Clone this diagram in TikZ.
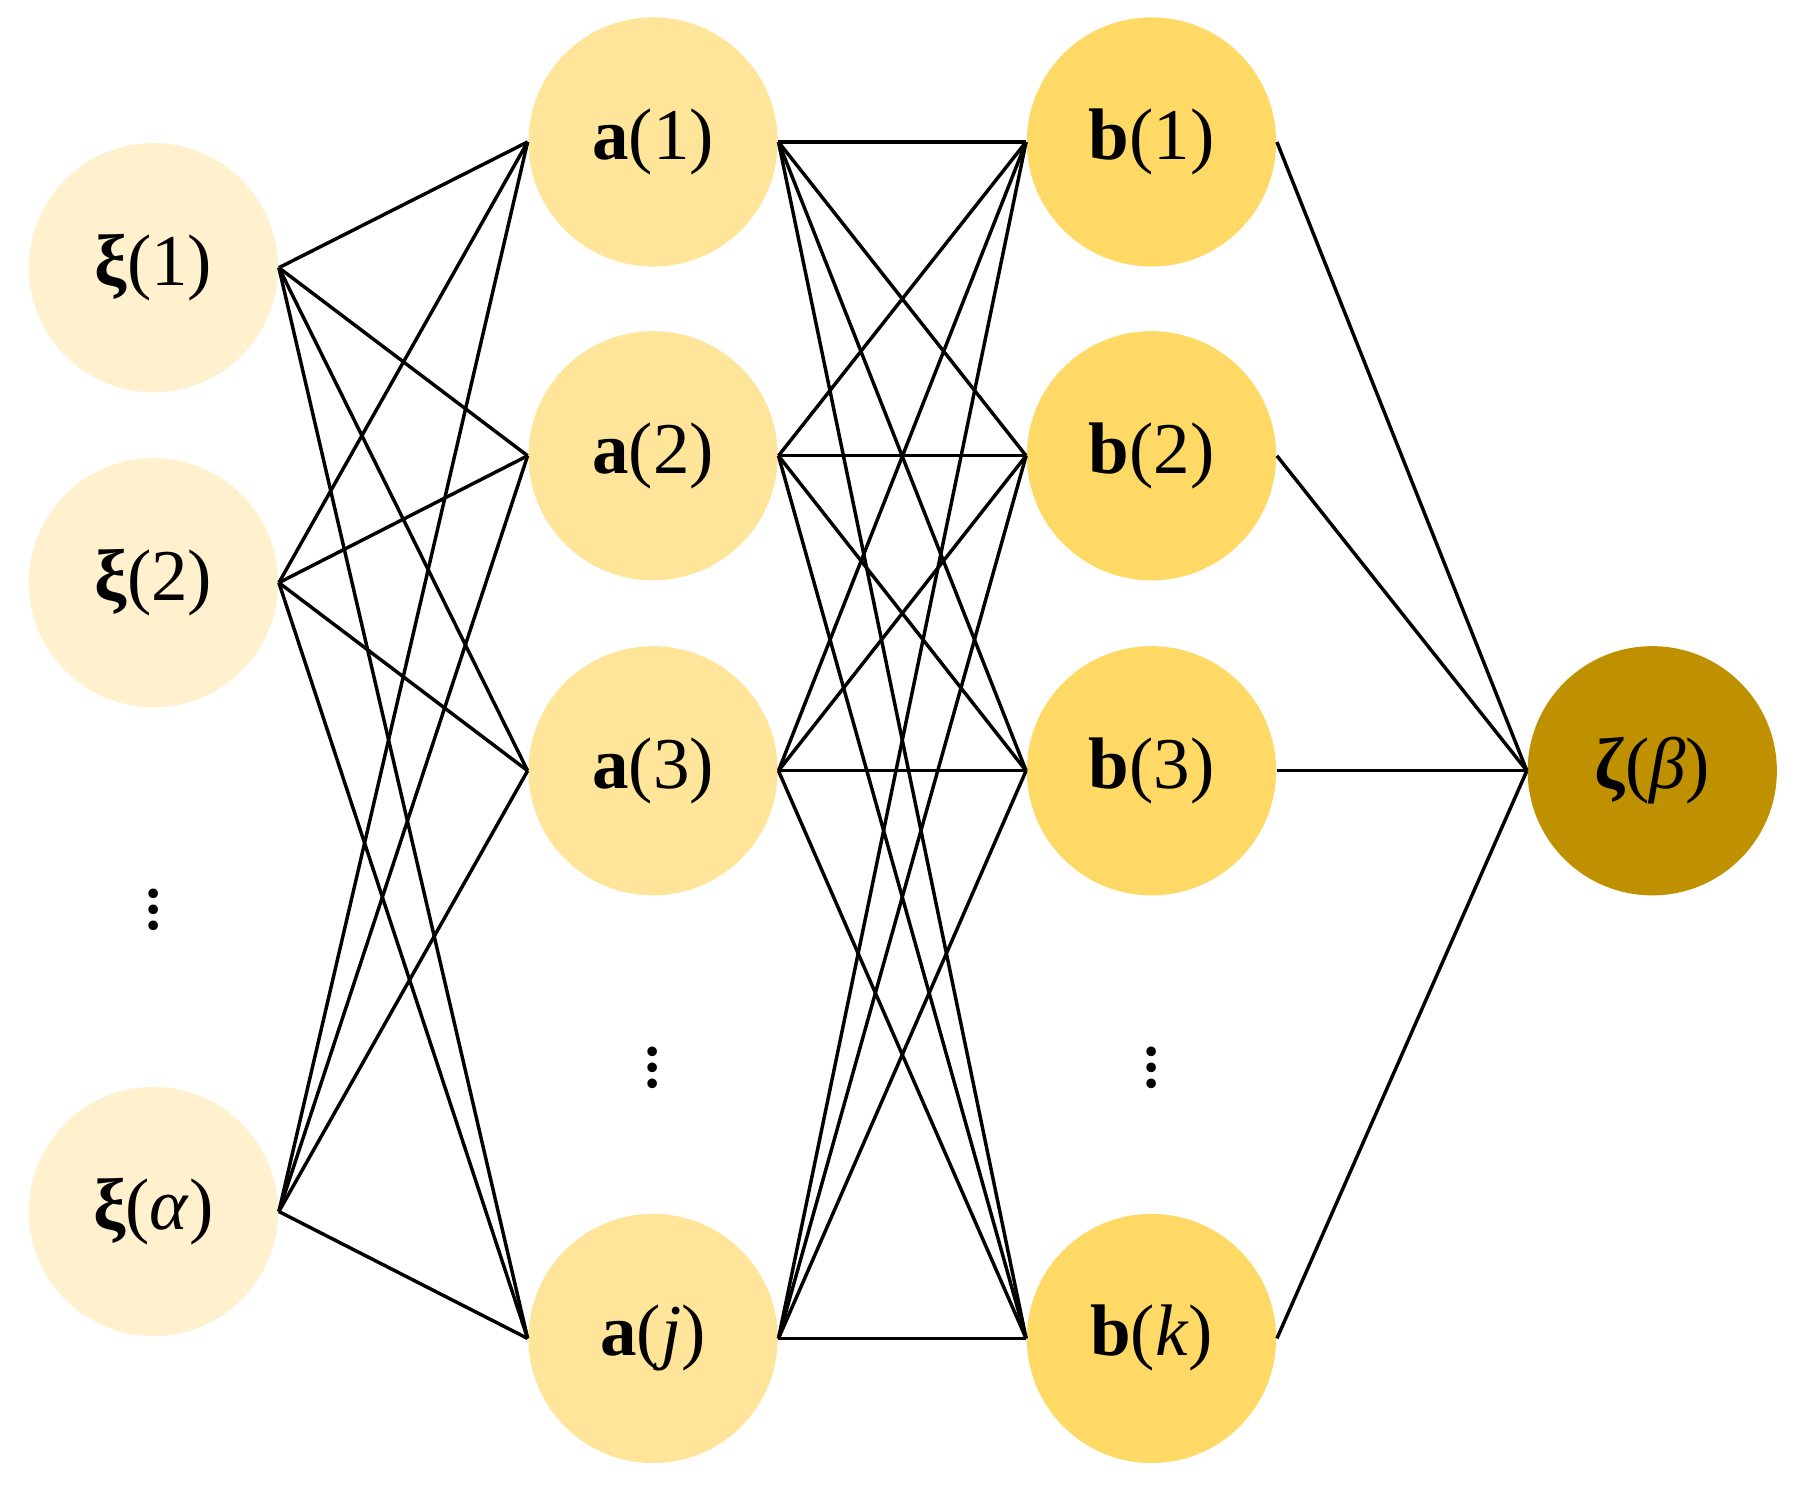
\documentclass[tikz,border=0pt]{standalone}
\usepackage{fontspec}
\setmainfont{Liberation Serif}
\begin{document}
\begin{tikzpicture}[x=0.1mm,y=-0.1mm,
  nd/.style={circle,minimum size=21.6mm,inner sep=0pt,font=\fontsize{18}{21}\selectfont},
  xi/.style={nd,fill=xicol}, an/.style={nd,fill=acol}, bn/.style={nd,fill=bcol},
  ed/.style={line width=0.85pt,black},
  dots/.style={font=\fontsize{20}{24}\selectfont}]
\definecolor{xicol}{HTML}{FFF0CE}
\definecolor{acol}{HTML}{FFE599}
\definecolor{bcol}{HTML}{FFD966}
\definecolor{zcol}{HTML}{BF9000}
\useasboundingbox (0,0) rectangle (1567,1291);
\node[xi] (x1) at (133,232) {\textbf{ξ}(1)};
\node[xi] (x2) at (133,505) {\textbf{ξ}(2)};
\node[xi] (xa) at (133,1050) {\textbf{ξ}(\textit{α})};
\node[dots] (xd) at (133,778) {$\vdots$};
\node[an] (a1) at (566,123) {\textbf{a}(1)};
\node[an] (a2) at (566,395) {\textbf{a}(2)};
\node[an] (a3) at (566,668) {\textbf{a}(3)};
\node[an] (aj) at (566,1160) {\textbf{a}(\textit{j})};
\node[dots] (ad) at (566,915) {$\vdots$};
\node[bn] (b1) at (998,123) {\textbf{b}(1)};
\node[bn] (b2) at (998,395) {\textbf{b}(2)};
\node[bn] (b3) at (998,668) {\textbf{b}(3)};
\node[bn] (bk) at (998,1160) {\textbf{b}(\textit{k})};
\node[dots] (bd) at (998,915) {$\vdots$};
\node[nd,fill=zcol] (z) at (1432,668) {\textbf{ζ}(\textit{β})};
\foreach \s in {x1,x2,xa}
  \foreach \t in {a1,a2,a3,aj}
    \draw[ed] (\s.east) -- (\t.west);
\foreach \s in {a1,a2,a3,aj}
  \foreach \t in {b1,b2,b3,bk}
    \draw[ed] (\s.east) -- (\t.west);
\foreach \s in {b1,b2,b3,bk}
  \draw[ed] (\s.east) -- (z.west);
\end{tikzpicture}
\end{document}
